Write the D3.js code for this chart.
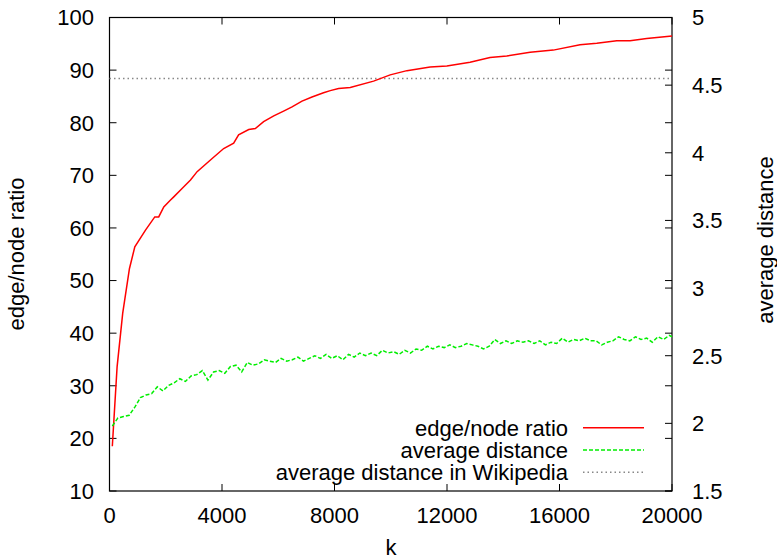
<!DOCTYPE html>
<meta charset="utf-8">
<script src="https://d3js.org/d3.v7.min.js"></script>
<style>
	body{
		margin:0;
		background:#fff;
		font-family:'Liberation Sans', Arial, sans-serif;
	}
	text{
		font-size:22px;
		fill:#000;
	}
</style>
<div id="chart"></div>
<script>

// edge/node ratio (left axis)
var ratioK = [100,270,470,710,900,1280,1610,1750,1930,2170,2285,2580,2880,3115,3650,4060,4415,4590,4950,5185,5480,5840,6190,6490,6845,7200,7610,7850,8145,8560,9390,9980,10575,11400,11995,12820,13530,14125,14955,15780,16730,17325,18035,18510,19100,20000]
var ratioVal = [18.5,33.6,43.8,52.3,56.4,59.6,62.1,62.1,64.0,65.3,65.9,67.5,69.1,70.7,73.2,75.1,76.1,77.7,78.7,78.9,80.2,81.3,82.2,83.0,84.1,84.9,85.7,86.1,86.5,86.7,87.9,89.1,89.9,90.6,90.8,91.5,92.4,92.7,93.4,93.8,94.8,95.1,95.6,95.6,96.0,96.5]

// average distance (right axis)
var distK = [100,300,500,700,900,1100,1300,1500,1700,1900,2100,2300,2500,2700,2900,3100,3300,3500,3700,3900,
	4100,4300,4500,4700,4900,5100,5300,5500,5700,5900,6100,6300,6500,6700,6900,7100,7300,7500,7700,7900,
	8100,8300,8500,8700,8900,9100,9300,9500,9700,9900,10100,10300,10500,10700,10900,11100,11300,11500,11700,11900,
	12100,12300,12500,12700,12900,13100,13300,13500,13700,13900,14100,14300,14500,14700,14900,15100,15300,15500,15700,15900,
	16100,16300,16500,16700,16900,17100,17300,17500,17700,17900,18100,18300,18500,18700,18900,19100,19300,19500,19700,19900,20000]
var distVal = [1.98,2.04,2.05,2.06,2.12,2.19,2.21,2.22,2.27,2.24,2.28,2.30,2.33,2.31,2.35,2.36,2.39,2.32,2.38,2.39,
	2.37,2.42,2.43,2.38,2.45,2.43,2.44,2.47,2.46,2.45,2.48,2.46,2.47,2.49,2.46,2.48,2.50,2.48,2.51,2.48,
	2.50,2.47,2.51,2.49,2.52,2.50,2.52,2.50,2.54,2.52,2.53,2.51,2.54,2.52,2.55,2.54,2.57,2.55,2.57,2.56,
	2.58,2.56,2.57,2.59,2.58,2.57,2.55,2.57,2.62,2.59,2.61,2.59,2.61,2.60,2.61,2.59,2.61,2.58,2.60,2.59,
	2.63,2.60,2.62,2.61,2.63,2.61,2.61,2.58,2.60,2.61,2.64,2.62,2.61,2.64,2.62,2.63,2.60,2.64,2.62,2.65,2.64]

// average distance in Wikipedia (right axis)
var wikiDist = 4.55

var xTicks = [0,4000,8000,12000,16000,20000]
var yTicks = [10,20,30,40,50,60,70,80,90,100]
var y2Ticks = [1.5,2,2.5,3,3.5,4,4.5,5]
var legendNames = ["edge/node ratio","average distance","average distance in Wikipedia"]

var w = 777
var h = 558
var pL = 109.5, pR = 672, pT = 17.5, pB = 491
var tl = 7

var svg = d3.select("#chart").append("svg").attr("width",w).attr("height",h)

var x = d3.scaleLinear().domain([0,20000]).range([pL,pR])
var y = d3.scaleLinear().domain([10,100]).range([pB,pT])
var y2 = d3.scaleLinear().domain([1.5,5]).range([pB,pT])

var g = svg.append("g")

// ticks (gnuplot style, inward, mirrored)
xTicks.forEach(function(t){
	g.append("line").attr("x1",x(t)).attr("x2",x(t)).attr("y1",pB).attr("y2",pB-tl).attr("stroke","#000")
	g.append("line").attr("x1",x(t)).attr("x2",x(t)).attr("y1",pT).attr("y2",pT+tl).attr("stroke","#000")
	g.append("text").attr("x",x(t)).attr("y",523).attr("text-anchor","middle").text(t)
})
yTicks.forEach(function(t){
	g.append("line").attr("x1",pL).attr("x2",pL+tl).attr("y1",y(t)).attr("y2",y(t)).attr("stroke","#000")
	g.append("line").attr("x1",pR).attr("x2",pR-tl).attr("y1",y(t)).attr("y2",y(t)).attr("stroke","#000")
	g.append("text").attr("x",94).attr("y",y(t)).attr("dy","0.36em").attr("text-anchor","end").text(t)
})
y2Ticks.forEach(function(t){
	g.append("line").attr("x1",pR).attr("x2",pR-tl).attr("y1",y2(t)).attr("y2",y2(t)).attr("stroke","#000")
	g.append("text").attr("x",692).attr("y",y2(t)).attr("dy","0.36em").text(t)
})

// frame
g.append("rect").attr("x",pL).attr("y",pT).attr("width",pR-pL).attr("height",pB-pT)
	.attr("fill","none").attr("stroke","#000").attr("stroke-width",1.2)

// axis labels
svg.append("text").attr("transform","translate(24,254) rotate(-90)").attr("text-anchor","middle").text("edge/node ratio")
svg.append("text").attr("transform","translate(773,240) rotate(-90)").attr("text-anchor","middle").text("average distance")
svg.append("text").attr("x",391).attr("y",555).attr("text-anchor","middle").text("k")

// legend
var legY = [427.7,450,472.3]
var legStyle = [
	{color:"#ff0000",dash:null},
	{color:"#00ee00",dash:"4,2"},
	{color:"#888888",dash:"1.5,3"}
]
legendNames.forEach(function(n,i){
	svg.append("text").attr("x",568).attr("y",legY[i]).attr("dy","0.36em").attr("text-anchor","end").text(n)
	svg.append("line").attr("x1",583).attr("x2",644).attr("y1",legY[i]).attr("y2",legY[i])
		.attr("stroke",legStyle[i].color).attr("stroke-width",1.5)
		.attr("stroke-dasharray",legStyle[i].dash)
})

// wikipedia line
svg.append("line").attr("x1",pL).attr("x2",pR).attr("y1",y2(wikiDist)).attr("y2",y2(wikiDist))
	.attr("stroke","#888888").attr("stroke-width",1.5).attr("stroke-dasharray","1.5,3")

// series
var redLine = d3.line().x(function(d,i){return x(ratioK[i])}).y(function(d){return y(d)})
svg.append("path").attr("d",redLine(ratioVal)).attr("fill","none").attr("stroke","#ff0000").attr("stroke-width",1.5)

var greenLine = d3.line().x(function(d,i){return x(distK[i])}).y(function(d){return y2(d)})
svg.append("path").attr("d",greenLine(distVal)).attr("fill","none").attr("stroke","#00ee00").attr("stroke-width",1.5)
	.attr("stroke-dasharray","4,2")

</script>
